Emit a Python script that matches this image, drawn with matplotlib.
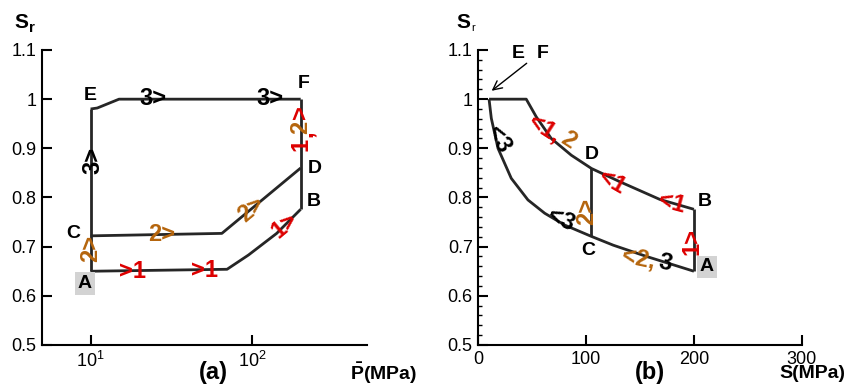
"""Degree of saturation paths: (a) vs mean pressure, (b) vs suction."""

import matplotlib

matplotlib.use("Agg")
import matplotlib.pyplot as plt
from matplotlib.ticker import FixedLocator, MultipleLocator, NullLocator

plt.rcParams["font.family"] = ["Liberation Sans", "DejaVu Sans"]
plt.rcParams["mathtext.fontset"] = "custom"
plt.rcParams["mathtext.rm"] = "Liberation Sans"
plt.rcParams["mathtext.bf"] = "Liberation Sans:bold"

RED = "#dd0000"
ORANGE = "#b5650d"
LINE = "#262626"

sr_ticks = [0.5, 0.6, 0.7, 0.8, 0.9, 1.0, 1.1]
sr_tick_labels = ["0.5", "0.6", "0.7", "0.8", "0.9", "1", "1.1"]

# ---- panel (a): Sr vs net mean pressure (log) ----
p_ab = [10, 70, 95, 142, 200]
sr_ab = [0.650, 0.654, 0.683, 0.727, 0.776]
p_cd = [10, 65, 200]
sr_cd = [0.722, 0.727, 0.860]
p_ae = [10, 10]
sr_ae = [0.650, 0.980]
p_ef = [10, 11, 15, 200]
sr_ef = [0.980, 0.982, 1.000, 1.000]
p_bf = [200, 200]
sr_bf = [0.776, 1.000]

points_a = ["A", "B", "C", "D", "E", "F"]
points_a_p = [9.2, 240, 7.77, 245, 10, 208]
points_a_sr = [0.625, 0.791, 0.727, 0.859, 1.008, 1.032]

# ---- panel (b): Sr vs suction ----
s_top = [200, 168.5, 131.4, 105, 86.3, 67.7, 53.8, 44.5, 10]
sr_top = [0.776, 0.796, 0.832, 0.859, 0.886, 0.920, 0.964, 1.000, 1.000]
s_low = [10, 12.1, 18.3, 30.6, 46.1, 61.6, 80.1, 104.8, 125.2, 156.2, 200]
sr_low = [1.000, 0.961, 0.900, 0.839, 0.795, 0.768, 0.744, 0.721, 0.703, 0.680, 0.650]
s_ab = [200, 200]
sr_ab_b = [0.650, 0.776]
s_cd = [105, 105]
sr_cd_b = [0.721, 0.859]

points_b = ["A", "B", "C", "D"]
points_b_s = [211.9, 210.3, 102, 105.2]
points_b_sr = [0.659, 0.791, 0.693, 0.888]

# path annotations: (text, x, y, colour, rotation)
labels_a = [
    (">1", 18.3, 0.649, RED, 0),
    (">1", 51, 0.652, RED, 0),
    ("1>", 160, 0.744, RED, 40),
    ("2>", 27.5, 0.724, ORANGE, 0),
    ("2>", 99.6, 0.775, ORANGE, 40),
    ("2>", 10, 0.697, ORANGE, 90),
    ("3>", 10.3, 0.876, "black", 90),
    ("3>", 24.4, 1.002, "black", 0),
    ("3>", 129, 1.002, "black", 0),
    ("1", 200, 0.908, RED, 90),
    (",", 213, 0.930, RED, 90),
    ("2", 200, 0.942, ORANGE, 90),
    (">", 200, 0.974, RED, 90),
]
labels_b = [
    ("<1,", 61.6, 0.939, RED, -33),
    ("2", 83.2, 0.917, ORANGE, -33),
    ("<1", 123.7, 0.832, RED, -30),
    ("<1", 179.4, 0.788, RED, -15),
    ("2>", 100.5, 0.771, ORANGE, 90),
    ("1>", 198, 0.710, RED, 90),
    ("<3", 77, 0.754, "black", -25),
    ("<3", 18.3, 0.917, "black", -60),
    ("<2,", 148.4, 0.676, ORANGE, -12),
    ("3", 173.2, 0.666, "black", -12),
]


def _style_axis(axis):
    for side in ("top", "right"):
        axis.spines[side].set_visible(False)
    for side in ("left", "bottom"):
        axis.spines[side].set_linewidth(1.5)
    axis.tick_params(direction="in", length=7, width=1.5, labelsize=13, pad=4)
    axis.tick_params(which="minor", direction="in", length=3, width=1.0)
    axis.set_yticks(sr_ticks, sr_tick_labels)
    axis.set_ylim(0.5, 1.1)


def _point_labels(axis, names, xs, ys, boxed="A"):
    for name, x, y in zip(names, xs, ys):
        bbox = None
        if name == boxed:
            bbox = dict(facecolor="#d3d3d3", edgecolor="none", pad=2.0)
        axis.text(x, y, name, fontsize=14, fontweight="bold", ha="center",
                  va="center", bbox=bbox)


def _path_labels(axis, labels):
    for text, x, y, color, rotation in labels:
        axis.text(x, y, text, color=color, fontsize=17, fontweight="bold",
                  ha="center", va="center", rotation=rotation,
                  rotation_mode="anchor")


figure = plt.figure(figsize=(8.48, 3.9), dpi=100)
ax_a = figure.add_axes([0.0495, 0.1154, 0.3833, 0.7564])
ax_b = figure.add_axes([0.564, 0.1154, 0.3814, 0.7564])

# panel (a)
for xs, ys in ((p_ab, sr_ab), (p_cd, sr_cd), (p_ae, sr_ae), (p_ef, sr_ef),
               (p_bf, sr_bf)):
    ax_a.plot(xs, ys, color=LINE, linewidth=2.0, solid_capstyle="butt")
ax_a.set_xscale("log")
ax_a.set_xlim(5, 515)
ax_a.xaxis.set_major_locator(FixedLocator([10, 100]))
ax_a.xaxis.set_minor_locator(NullLocator())
_style_axis(ax_a)
_point_labels(ax_a, points_a, points_a_p, points_a_sr)
_path_labels(ax_a, labels_a)

# panel (b)
for xs, ys in ((s_top, sr_top), (s_low, sr_low), (s_ab, sr_ab_b),
               (s_cd, sr_cd_b)):
    ax_b.plot(xs, ys, color=LINE, linewidth=2.0, solid_capstyle="butt")
ax_b.set_xlim(0, 300)
ax_b.xaxis.set_major_locator(MultipleLocator(100))
_style_axis(ax_b)
ax_b.yaxis.set_minor_locator(MultipleLocator(0.02))
_point_labels(ax_b, points_b, points_b_s, points_b_sr)
_path_labels(ax_b, labels_b)
ax_b.text(37.1, 1.093, "E", fontsize=14, fontweight="bold", ha="center",
          va="center")
ax_b.text(59.7, 1.093, "F", fontsize=14, fontweight="bold", ha="center",
          va="center")
ax_b.annotate("", xy=(12.4, 1.017), xytext=(44.9, 1.073),
              arrowprops=dict(arrowstyle="->", color="black", lw=1.0,
                              shrinkA=0, shrinkB=0, mutation_scale=16))

# axis titles and panel tags (figure pixel positions from the top-left)
W, H = 848, 390


def _fig_text(x, y, text, **kw):
    figure.text(x / W, 1 - y / H, text, **kw)


_fig_text(14, 22, "S", fontsize=15, fontweight="bold", va="center")
_fig_text(29, 28, "r", fontsize=11, fontweight="bold", va="center")
_fig_text(456, 22, "S", fontsize=15, fontweight="bold", va="center")
_fig_text(471, 28, "r", fontsize=8, va="center")
_fig_text(213, 373, "(a)", fontsize=17, fontweight="bold", ha="center",
          va="center")
_fig_text(650, 373, "(b)", fontsize=17, fontweight="bold", ha="center",
          va="center")
_fig_text(417, 373, r"$\mathbf{\bar{P}}$(MPa)", fontsize=14,
          fontweight="bold", ha="right", va="center")
_fig_text(845, 373, "S(MPa)", fontsize=14, fontweight="bold", ha="right",
          va="center")

figure.savefig("out.png", dpi=100)
plt.close(figure)
